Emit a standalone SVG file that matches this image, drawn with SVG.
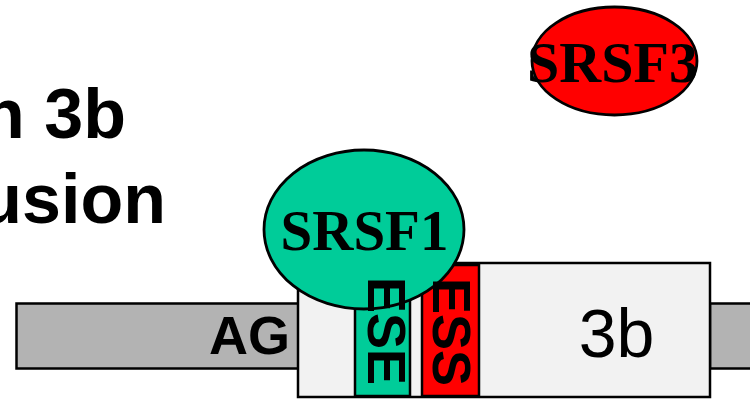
<svg xmlns="http://www.w3.org/2000/svg" width="750" height="400" viewBox="0 0 750 400">
<style>
.bar{fill:#b3b3b3;stroke:#000;stroke-width:2.5}
.exon{fill:#f2f2f2;stroke:#000;stroke-width:2.5}
.box{stroke:#000;stroke-width:2.5}
.ell{stroke:#000;stroke-width:2.8}
.sans{font-family:"Liberation Sans",Arial,sans-serif}
.serif{font-family:"Liberation Serif","Times New Roman",serif;font-weight:bold}
.b{font-weight:bold}
</style>
<rect width="750" height="400" fill="#fff"/>
<g id="title">
<text class="sans b" x="126" y="138" font-size="70" text-anchor="end">n 3b</text>
<text class="sans b" x="166" y="223" font-size="70" text-anchor="end">usion</text>
</g>
<g id="intron-left">
<rect class="bar" x="16.5" y="303.5" width="290" height="65"/>
<text class="sans b" x="290" y="354" font-size="54" text-anchor="end">AG</text>
</g>
<g id="intron-right">
<rect class="bar" x="710" y="303.5" width="60" height="65"/>
</g>
<g id="exon-3b">
<rect class="exon" x="298" y="263" width="412" height="134"/>
<text class="sans" x="616.5" y="357" font-size="68" text-anchor="middle">3b</text>
</g>
<g id="ESE-box">
<rect class="box" x="355" y="265" width="55" height="131" fill="#00cc99"/>
</g>
<g id="ESS-box">
<rect class="box" x="422" y="265" width="57" height="131" fill="#ff0000"/>
</g>
<g id="SRSF1">
<ellipse class="ell" cx="364" cy="229.5" rx="100" ry="79.5" fill="#00cc99"/>
<text class="serif" x="364.5" y="250" font-size="57" text-anchor="middle">SRSF1</text>
</g>
<g id="ESE">
<text class="sans b" transform="translate(368,331) rotate(90)" font-size="54" text-anchor="middle">ESE</text>
</g>
<g id="ESS">
<text class="sans b" transform="translate(433,332) rotate(90)" font-size="54" text-anchor="middle">ESS</text>
</g>
<g id="SRSF3">
<ellipse class="ell" cx="614.5" cy="61" rx="82.5" ry="54" fill="#ff0000"/>
<text class="serif" x="612.5" y="82" font-size="58" text-anchor="middle">SRSF3</text>
</g>
<g id="connectors"/>
</svg>
